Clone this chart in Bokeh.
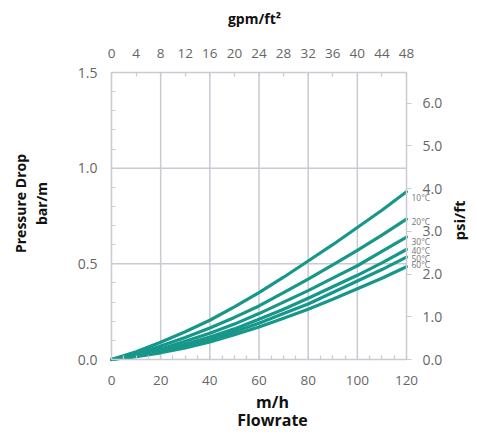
import math
from bokeh.plotting import figure
from bokeh.models import LinearAxis, Range1d, FixedTicker, Label, PrintfTickFormatter
from bokeh.embed import file_html
from bokeh.resources import INLINE

# ---- data ----
flowrate = [0, 10, 20, 30, 40, 50, 60, 70, 80, 90, 100, 110, 120]          # m/h
temps = ["10°C", "20°C", "30°C", "40°C", "50°C", "60°C"]
dp_10 = [0, 0.04, 0.09, 0.145, 0.205, 0.275, 0.35, 0.43, 0.515, 0.60, 0.69, 0.78, 0.877]   # bar/m
dp_20 = [0, 0.03, 0.07, 0.115, 0.165, 0.22, 0.28, 0.35, 0.42, 0.495, 0.57, 0.65, 0.734]
dp_30 = [0, 0.025, 0.055, 0.095, 0.137, 0.185, 0.24, 0.30, 0.36, 0.425, 0.49, 0.565, 0.64]
dp_40 = [0, 0.02, 0.045, 0.08, 0.117, 0.16, 0.21, 0.263, 0.32, 0.38, 0.44, 0.505, 0.575]
dp_50 = [0, 0.018, 0.04, 0.07, 0.103, 0.145, 0.19, 0.24, 0.29, 0.35, 0.41, 0.47, 0.535]
dp_60 = [0, 0.015, 0.035, 0.06, 0.092, 0.13, 0.17, 0.215, 0.263, 0.315, 0.37, 0.425, 0.485]
series = [dp_10, dp_20, dp_30, dp_40, dp_50, dp_60]

x_ticks = [0, 20, 40, 60, 80, 100, 120]
x_minor = list(range(0, 121, 5))
gpm_ticks = [0, 4, 8, 12, 16, 20, 24, 28, 32, 36, 40, 44, 48]
bar_ticks = [0.0, 0.5, 1.0, 1.5]
bar_minor = [round(i * 0.1, 1) for i in range(16)]
psi_ticks = [0, 1, 2, 3, 4, 5, 6]
psi_per_bar_m = 4.48
gpm_per_mh = 0.4

# ---- layout / style ----
W, H = 469, 431
X0_PX, X120_PX = 111, 406      # canvas px of x=0 and x=120
Y0_PX, Y15_PX = 359, 72        # canvas px of y=0 and y=1.5
sx = (X120_PX - X0_PX) / 120.0
sy = (Y0_PX - Y15_PX) / 1.5
xr = (-X0_PX / sx, (W - X0_PX) / sx)
yr = (-(H - Y0_PX) / sy, 1.5 + Y15_PX / sy)

TEAL = "#16978a"
GRID = "#c9cad2"
TICKTXT = "#666666"
FONT = "Open Sans"
label_dy = [-6, -2, -4, -1, -1, 2]

p = figure(width=W, height=H, output_backend="svg", toolbar_location=None,
           x_range=Range1d(*xr), y_range=Range1d(*yr),
           x_axis_location=None, y_axis_location=None, min_border=0,
           background_fill_color="white", border_fill_color="white")
p.outline_line_color = None
p.grid.visible = False
p.extra_x_ranges = {"gpm": Range1d(xr[0] * gpm_per_mh, xr[1] * gpm_per_mh)}
p.extra_y_ranges = {"psi": Range1d(yr[0] * psi_per_bar_m, yr[1] * psi_per_bar_m)}

def style_axis(ax, size="14px"):
    ax.axis_line_color = GRID
    ax.axis_line_width = 1.5
    ax.major_tick_line_color = GRID
    ax.minor_tick_line_color = GRID
    ax.major_tick_line_width = 1.2
    ax.minor_tick_line_width = 1.2
    ax.major_label_text_font = FONT
    ax.major_label_text_color = TICKTXT
    ax.major_label_text_font_size = size

# grid lines
gx = x_ticks[1:-1]
p.segment(x0=gx, y0=[bar_ticks[0]] * len(gx), x1=gx, y1=[bar_ticks[-1]] * len(gx),
          line_color=GRID, line_width=1.5)
gy = bar_ticks[1:-1]
p.segment(x0=[x_ticks[0]] * len(gy), y0=gy, x1=[x_ticks[-1]] * len(gy), y1=gy,
          line_color=GRID, line_width=1.5)

# axes
bottom = LinearAxis(fixed_location=0, bounds=(0, 120),
                    ticker=FixedTicker(ticks=x_ticks, minor_ticks=x_minor))
style_axis(bottom, "13.5px")
bottom.major_tick_in = 0
bottom.major_tick_out = 0
bottom.minor_tick_in = 4
bottom.minor_tick_out = 0
bottom.major_label_standoff = 16
p.add_layout(bottom, "below")

left = LinearAxis(fixed_location=0, bounds=(0, 1.5),
                  ticker=FixedTicker(ticks=bar_ticks, minor_ticks=bar_minor),
                  formatter=PrintfTickFormatter(format="%.1f"))
style_axis(left, "14px")
left.major_tick_in = 0
left.major_tick_out = 0
left.minor_tick_in = 4
left.minor_tick_out = 0
left.major_label_standoff = 14
p.add_layout(left, "left")

top = LinearAxis(x_range_name="gpm", fixed_location=1.5, bounds=(0, 48),
                 ticker=FixedTicker(ticks=gpm_ticks, minor_ticks=[]))
style_axis(top, "13.5px")
top.major_tick_in = 4
top.major_tick_out = 0
top.minor_tick_in = 0
top.minor_tick_out = 0
top.major_label_standoff = 15
p.add_layout(top, "above")

right = LinearAxis(y_range_name="psi", fixed_location=120, bounds=(0, 1.5 * psi_per_bar_m),
                   ticker=FixedTicker(ticks=psi_ticks, minor_ticks=[]),
                   formatter=PrintfTickFormatter(format="%.1f"))
style_axis(right, "14px")
right.major_tick_in = 0
right.major_tick_out = 5
right.minor_tick_in = 0
right.minor_tick_out = 0
right.major_label_standoff = 11
p.add_layout(right, "right")

# curves
for name, ys, dy in zip(temps, series, label_dy):
    p.line(flowrate, ys, line_color=TEAL, line_width=3.2, line_cap="round", line_join="round")
    p.add_layout(Label(x=flowrate[-1], y=ys[-1], x_offset=5, y_offset=dy, text=name,
                       text_font=FONT, text_font_size="8.5px", text_color="#777777",
                       text_baseline="middle", text_align="left"))

def title(text, px, py, size, angle=0.0):
    p.add_layout(Label(x=px, y=H - py, x_units="screen", y_units="screen", text=text,
                       angle=angle, text_font=FONT, text_font_size=size,
                       text_font_style="bold", text_color="#111111",
                       text_align="center", text_baseline="middle"))

title("gpm/ft²", 254, 18, "14px")
title("m/h", 272, 401, "16px")
title("Flowrate", 272, 419, "16px")
title("Pressure Drop", 20, 203, "14px", math.pi / 2)
title("bar/m", 41, 203, "14px", math.pi / 2)
title("psi/ft", 458, 220, "15px", math.pi / 2)

open("out.html", "w").write(file_html(p, INLINE))
